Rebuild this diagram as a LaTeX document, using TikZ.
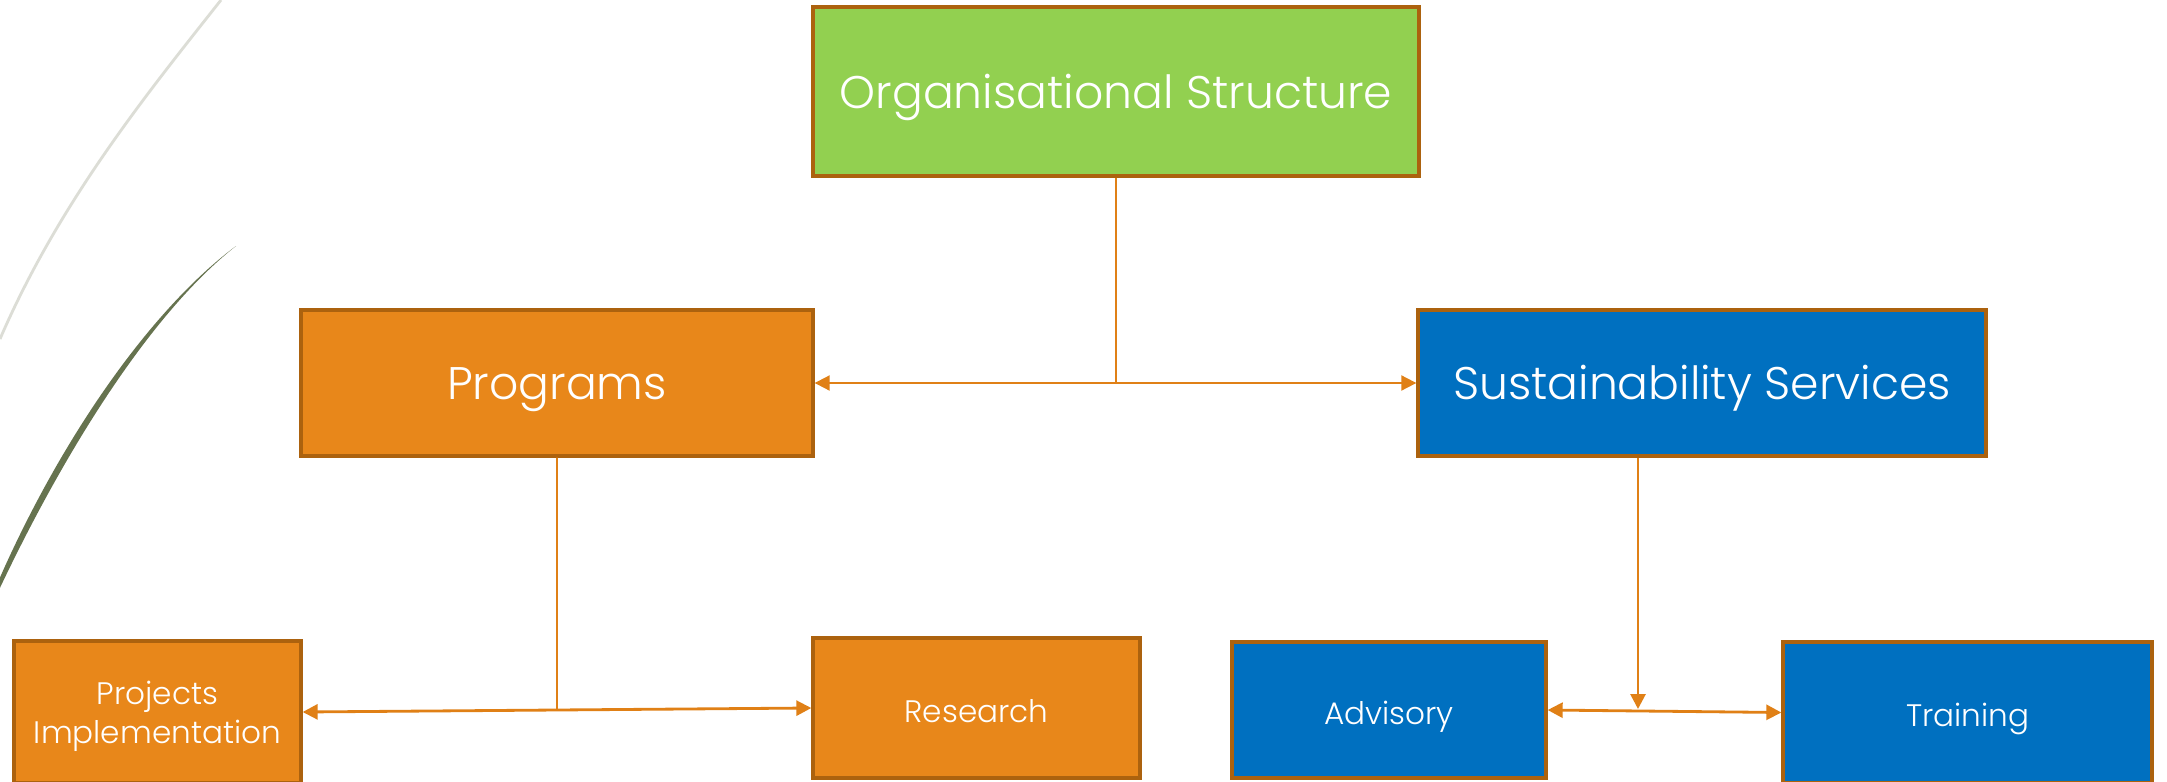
\documentclass[tikz,border=0pt]{standalone}
\usepackage{fontspec}
\setmainfont{Poppins}[UprightFont=* Light]
\usetikzlibrary{arrows.meta,calc}
\definecolor{bgreen}{HTML}{92D050}
\definecolor{borange}{HTML}{E8871A}
\definecolor{bblue}{HTML}{0070C0}
\definecolor{bedge}{HTML}{AC620E}
\definecolor{conn}{HTML}{E08016}
\definecolor{olivec}{HTML}{66734F}
\definecolor{lgray}{HTML}{DCDDD6}
\newcommand{\ctrtxt}[1]{\raisebox{-0.37em}[0pt][0pt]{#1}}
\newcommand{\ctrtxts}[1]{\raisebox{-0.45em}[0pt][0pt]{#1}}
\tikzset{
  box/.style={draw=bedge, line width=1.9pt, text=white, align=center, inner sep=0pt},
  bigtxt/.style={font=\fontsize{26}{30}\selectfont},
  smalltxt/.style={font=\fontsize{17.7}{22}\selectfont},
  link/.style={draw=conn, line width=1.1pt},
  linkb/.style={draw=conn, line width=1.6pt},
  tip/.style={-{Triangle[length=0.3cm,width=0.3cm]}},
  tips/.style={{Triangle[length=0.3cm,width=0.3cm]}-{Triangle[length=0.3cm,width=0.3cm]}},
}
\begin{document}
\begin{tikzpicture}[x=0.02cm,y=-0.02cm]
\clip (0,0) rectangle (2167,781);
\fill[white] (0,0) rectangle (2167,781);
% decorative curves
\draw[lgray, line width=1.6pt] (221,0) .. controls (150,90) and (60,200) .. (0,339);
\fill[olivec] (236,246) .. controls (150,310) and (60,440) .. (-2,582) -- (-2,592) .. controls (66,448) and (152,312) .. (236,246) -- cycle;
% nodes
\node[box, fill=bgreen, bigtxt, minimum width={606*0.02cm}, minimum height={169*0.02cm}] (org) at (1116,91.5) {\ctrtxt{Organisational Structure}};
\node[box, fill=borange, bigtxt, minimum width={512*0.02cm}, minimum height={146*0.02cm}] (prog) at (557,383) {\ctrtxt{Programs}};
\node[box, fill=bblue, bigtxt, minimum width={568*0.02cm}, minimum height={146*0.02cm}] (ss) at (1702,383) {\ctrtxt{Sustainability Services}};
\node[box, fill=borange, smalltxt, minimum width={287*0.02cm}, minimum height={142*0.02cm}, text depth=-7pt] (proj) at (157.5,712) {Projects\\Implementation};
\node[box, fill=borange, smalltxt, minimum width={327*0.02cm}, minimum height={140*0.02cm}] (res) at (976.5,708) {\ctrtxts{Research}};
\node[box, fill=bblue, smalltxt, minimum width={314*0.02cm}, minimum height={136*0.02cm}] (adv) at (1389,710) {\ctrtxts{Advisory}};
\node[box, fill=bblue, smalltxt, minimum width={369*0.02cm}, minimum height={141*0.02cm}] (trn) at (1967.5,712.5) {\ctrtxts{Training}};
% connectors
\draw[link, tips] (prog.east) -- (ss.west);
\draw[link] (org.south) -- (org.south |- prog.east);
\draw[linkb, tips] (proj.east) -- (res.west);
\coordinate (pm) at ($(proj.east)!0.5!(res.west)$);
\draw[link] (prog.south) -- (pm);
\draw[linkb, tips] (adv.east) -- (trn.west);
\coordinate (sd) at (1638,709);
\draw[linkb, tip] (ss.south -| sd) -- (sd);
\end{tikzpicture}
\end{document}
